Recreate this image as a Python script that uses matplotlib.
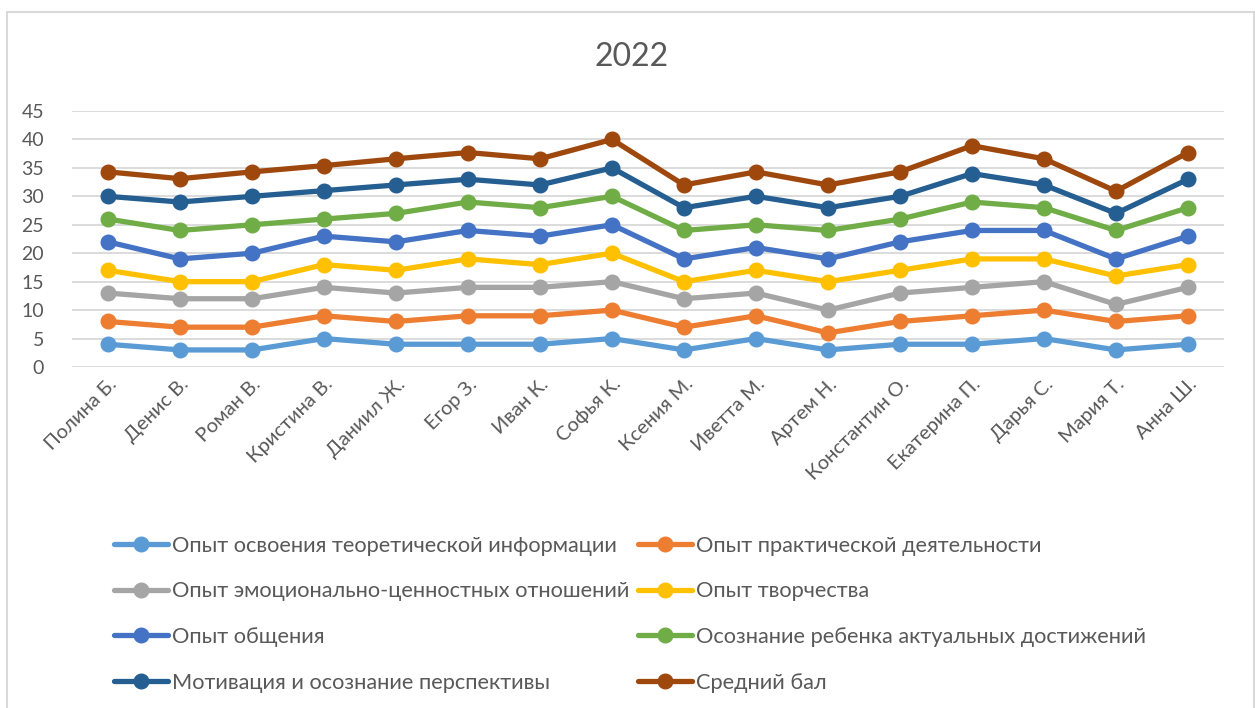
import numpy as np
import matplotlib.pyplot as plt
from matplotlib.patches import Rectangle

plt.rcParams['font.family'] = ['Lato', 'DejaVu Sans']

names = ["Полина Б.", "Денис В.", "Роман В.", "Кристина В.", "Даниил Ж.",
         "Егор З.", "Иван К.", "Софья К.", "Ксения М.", "Иветта М.",
         "Артем Н.", "Константин О.", "Екатерина П.", "Дарья С.", "Мария Т.",
         "Анна Ш."]

teor = [4, 3, 3, 5, 4, 4, 4, 5, 3, 5, 3, 4, 4, 5, 3, 4]
prakt = [8, 7, 7, 9, 8, 9, 9, 10, 7, 9, 6, 8, 9, 10, 8, 9]
emoc = [13, 12, 12, 14, 13, 14, 14, 15, 12, 13, 10, 13, 14, 15, 11, 14]
tvor = [17, 15, 15, 18, 17, 19, 18, 20, 15, 17, 15, 17, 19, 19, 16, 18]
obsh = [22, 19, 20, 23, 22, 24, 23, 25, 19, 21, 19, 22, 24, 24, 19, 23]
osozn = [26, 24, 25, 26, 27, 29, 28, 30, 24, 25, 24, 26, 29, 28, 24, 28]
motiv = [30, 29, 30, 31, 32, 33, 32, 35, 28, 30, 28, 30, 34, 32, 27, 33]
sred = [34.3, 33.1, 34.3, 35.4, 36.6, 37.7, 36.6, 40.0, 32.0, 34.3, 32.0,
        34.3, 38.9, 36.6, 30.9, 37.7]

series = [
    ("Опыт освоения теоретической информации", teor, "#5B9BD5"),
    ("Опыт практической деятельности", prakt, "#ED7D31"),
    ("Опыт эмоционально-ценностных отношений", emoc, "#A5A5A5"),
    ("Опыт творчества", tvor, "#FFC000"),
    ("Опыт общения", obsh, "#4472C4"),
    ("Осознание ребенка актуальных достижений", osozn, "#70AD47"),
    ("Мотивация и осознание перспективы", motiv, "#255E91"),
    ("Средний бал", sred, "#9E480E"),
]

W, H = 1255, 708
fig = plt.figure(figsize=(W / 100, H / 100), dpi=100)
# chart frame
fig.patches.append(Rectangle((7 / W, -0.1), (1254 - 7) / W, 1.1 - 12 / H,
                             transform=fig.transFigure, fill=False,
                             edgecolor="#D9D9D9", linewidth=1.5))

ax = fig.add_axes([72 / W, 1 - 367 / H, (1224 - 72) / W, (367 - 111) / H])
x = np.arange(len(names))
for label, vals, col in series:
    ax.plot(x, vals, color=col, linewidth=3.8, marker="o", markersize=10.5,
            label=label, solid_capstyle="round")

ax.set_xlim(-0.5, len(names) - 0.5)
ax.set_ylim(0, 45)
ax.set_yticks(range(0, 46, 5))
ax.grid(axis="y", color="#D9D9D9", linewidth=1.3)
ax.set_axisbelow(True)
for s in ax.spines.values():
    s.set_visible(False)
ax.tick_params(axis="both", length=0, labelsize=14, colors="#595959")
ax.tick_params(axis="y", pad=20)
ax.set_xticks(x)
ax.set_xticklabels(names, rotation=45, ha="right", rotation_mode="anchor",
                   fontsize=14.5)
ax.tick_params(axis="x", pad=6)

fig.text(632 / W, 1 - 57 / H, "2022", ha="center", va="center",
         fontsize=23, color="#595959")

# legend is filled row by row in the original
handles, labels = ax.get_legend_handles_labels()
order = [0, 2, 4, 6, 1, 3, 5, 7]
fig.legend([handles[i] for i in order], [labels[i] for i in order],
           ncol=2, loc="upper left",
           bbox_to_anchor=(94 / W, 1 - 516 / H), frameon=False,
           fontsize=15.7, labelcolor="#595959", handlelength=2.5,
           handletextpad=0.2, columnspacing=0.35, labelspacing=1.18)

fig.savefig("out.png", dpi=100)
